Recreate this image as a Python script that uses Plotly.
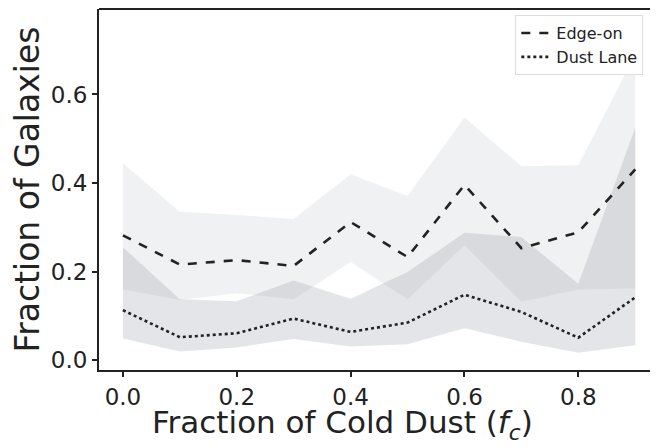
import plotly.graph_objects as go

fc = [0.0, 0.1, 0.2, 0.3, 0.4, 0.5, 0.6, 0.7, 0.8, 0.9]
edge_on = [0.282, 0.216, 0.226, 0.213, 0.312, 0.233, 0.396, 0.253, 0.289, 0.431]
edge_lo = [0.160, 0.136, 0.151, 0.138, 0.222, 0.138, 0.259, 0.132, 0.160, 0.162]
edge_hi = [0.445, 0.335, 0.328, 0.319, 0.420, 0.371, 0.548, 0.438, 0.440, 0.690]
dust = [0.113, 0.052, 0.061, 0.094, 0.064, 0.085, 0.148, 0.109, 0.051, 0.142]
dust_lo = [0.049, 0.020, 0.029, 0.048, 0.031, 0.036, 0.072, 0.042, 0.017, 0.034]
dust_hi = [0.255, 0.138, 0.133, 0.180, 0.139, 0.199, 0.288, 0.278, 0.173, 0.525]

font = "DejaVu Sans"
fig = go.Figure()

def band(lo, hi, color):
    fig.add_trace(go.Scatter(x=fc, y=lo, mode="lines", line=dict(width=0), showlegend=False, hoverinfo="skip"))
    fig.add_trace(go.Scatter(x=fc, y=hi, mode="lines", line=dict(width=0), fill="tonexty",
                             fillcolor=color, showlegend=False, hoverinfo="skip"))

band(edge_lo, edge_hi, "rgba(150,155,165,0.14)")
band(dust_lo, dust_hi, "rgba(150,155,165,0.26)")

fig.add_trace(go.Scatter(x=fc, y=edge_on, mode="lines", name="Edge-on",
                         line=dict(color="#222222", width=2.6, dash="dash")))
fig.add_trace(go.Scatter(x=fc, y=dust, mode="lines", name="Dust Lane",
                         line=dict(color="#222222", width=2.6, dash="dot")))

axis = dict(showgrid=False, zeroline=False, showline=True, linecolor="#222222", linewidth=2,
            ticks="outside", ticklen=5, tickwidth=2, tickcolor="#222222",
            automargin=False,
            tickfont=dict(size=23, color="#222222", family=font))

fig.update_layout(
    width=658, height=448,
    margin=dict(l=91, r=0, t=1, b=86),
    plot_bgcolor="white", paper_bgcolor="white",
    font=dict(family=font, color="#222222"),
    xaxis=dict(axis, range=[-0.042, 0.954], tickvals=[0, 0.2, 0.4, 0.6, 0.8],
               ticktext=["0.0", "0.2", "0.4", "0.6", "0.8"]),
    yaxis=dict(axis, range=[-0.022, 0.793], tickvals=[0, 0.2, 0.4, 0.6],
               ticktext=["0.0", "0.2", "0.4", "0.6"],
               title=dict(text="Fraction of Galaxies", font=dict(size=33), standoff=6)),
    legend=dict(x=0.96, y=0.983, xanchor="right", yanchor="top", bgcolor="white",
                traceorder="normal",
                bordercolor="#dddddd", borderwidth=1, font=dict(size=16, family=font)),
    shapes=[dict(type="line", xref="paper", yref="paper", x0=0, x1=1, y0=1, y1=1,
                 line=dict(color="#222222", width=2))],
    annotations=[dict(text="Fraction of Cold Dust (<i>f<sub>c</sub></i>)", xref="paper", yref="paper",
                      x=0.43, y=-0.09, xanchor="center", yanchor="top", showarrow=False,
                      font=dict(size=31, color="#222222", family=font))],
)

fig.write_html("out.html")
